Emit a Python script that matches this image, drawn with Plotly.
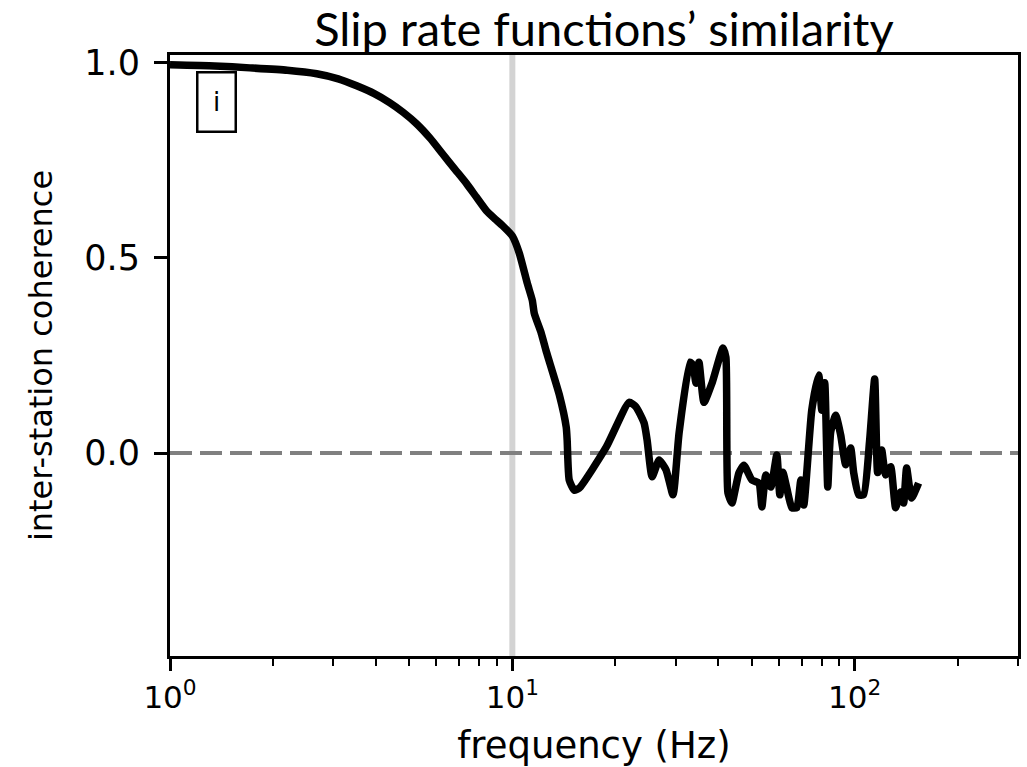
import plotly.graph_objects as go

# ---- data ----
freq = [1.0, 1.35, 1.711, 2.2, 2.683, 3.1, 3.510, 3.95, 4.379, 4.8, 5.250, 5.75, 6.251,
        6.8, 7.341, 7.85, 8.400, 8.9, 9.351, 10.0, 10.48, 11.06, 11.44, 11.59, 12.15,
        12.57, 13.71, 14.37, 14.46,
        14.66, 15.17, 15.68, 18.80, 21.93, 22.98, 24.26, 24.76, 25.60, 26.83,
        28.12, 29.47, 30.69, 33.04, 33.71, 34.39, 35.09, 36.29, 38.30, 41.23,
        42.06, 42.63, 43.79, 45.90, 47.46, 50.10, 52.51, 53.57, 55.02, 56.90,
        59.24, 60.44, 61.68, 63.36, 65.53, 67.77, 69.62, 71.03, 74.93, 78.53,
        80.13, 81.76, 83.43, 85.11, 88.03, 91.04, 94.15, 97.34, 99.33, 102.7,
        106.2, 110.6, 114.4, 116.7, 119.9, 123.1, 127.4, 131.7, 136.2, 139.0,
        141.8, 146.6, 153.7]
coherence = [0.995, 0.992, 0.987, 0.981, 0.972, 0.959, 0.941, 0.921, 0.898, 0.873, 0.844, 0.807, 0.767,
             0.727, 0.691, 0.656, 0.621, 0.600, 0.583, 0.556, 0.512, 0.435, 0.391, 0.358, 0.307,
             0.260, 0.150, 0.066, 0.033,
             -0.069, -0.095, -0.09, 0.015, 0.13, 0.118, 0.077, 0.033, -0.061, -0.018,
             -0.043, -0.107, 0.051, 0.233, 0.225, 0.179, 0.233, 0.13, 0.179, 0.269,
             0.245, -0.102, -0.128, -0.051, -0.031, -0.069, -0.077, -0.138, -0.056, -0.087,
             -0.005, -0.107, -0.049, -0.09, -0.14, -0.14, -0.069, -0.133, 0.11, 0.2,
             0.11, 0.18, -0.087, 0.054, 0.097, 0.046, -0.03, 0.013, -0.05, -0.107,
             -0.107, 0.033, 0.19, -0.05, 0.008, -0.056, -0.035, -0.14, -0.1, -0.128,
             -0.038, -0.115, -0.077]

ref_freq = 10.0          # vertical reference line
zero_level = 0.0         # horizontal dashed line

x_major = [1, 10, 100]
x_major_text = ["10<sup>0</sup>", "10<sup>1</sup>", "10<sup>2</sup>"]
x_minor = [2, 3, 4, 5, 6, 7, 8, 9, 20, 30, 40, 50, 60, 70, 80, 90, 200, 300]
y_ticks = [0.0, 0.5, 1.0]
y_tick_text = ["0.0", "0.5", "1.0"]

title_text = "Slip rate functions’ similarity"
panel_label = "i"

fig = go.Figure()
fig.add_trace(go.Scatter(x=freq, y=coherence, mode="lines",
                         line=dict(color="black", width=7.5, shape="spline", smoothing=0.5),
                         showlegend=False))

fig.add_shape(type="line", xref="x", yref="paper", x0=ref_freq, x1=ref_freq, y0=0, y1=1,
              line=dict(color="#d3d3d3", width=6), layer="below")
fig.add_shape(type="line", xref="paper", yref="y", x0=0, x1=1, y0=zero_level, y1=zero_level,
              line=dict(color="#808080", width=4, dash="22px,8px"), layer="below")

fig.add_annotation(text=panel_label, xref="paper", yref="paper",
                   x=0.0553, y=0.922, xanchor="center", yanchor="middle",
                   showarrow=False, font=dict(family="DejaVu Sans", size=26, color="black"),
                   bordercolor="black", borderwidth=2.5, bgcolor="white",
                   width=36, height=57, borderpad=0)

fig.update_layout(
    width=1027, height=767,
    margin=dict(l=170, r=6, t=55, b=111),
    paper_bgcolor="white", plot_bgcolor="white",
    font=dict(family="DejaVu Sans", color="black"),
    title=dict(text=title_text, x=0.5117, xanchor="center", xref="paper",
               y=0.94, yanchor="bottom", yref="container",
               font=dict(family="Lato", size=47, color="black")),
)
fig.update_xaxes(type="log", range=[0, 2.4771], showgrid=False, zeroline=False,
                 showline=True, linecolor="black", linewidth=3, mirror=True,
                 tickmode="array", tickvals=x_major, ticktext=x_major_text,
                 ticks="outside", ticklen=12, tickwidth=2.5, tickcolor="black",
                 tickfont=dict(size=31),
                 minor=dict(tickmode="array", tickvals=x_minor, ticks="outside",
                            ticklen=7, tickwidth=2, tickcolor="black"),
                 title=dict(text="frequency (Hz)", font=dict(size=37), standoff=18))
fig.update_yaxes(range=[-0.52, 1.02], showgrid=False, zeroline=False,
                 showline=True, linecolor="black", linewidth=3, mirror=True,
                 tickmode="array", tickvals=y_ticks, ticktext=y_tick_text,
                 ticks="outside", ticklen=13, tickwidth=2.5, tickcolor="black",
                 tickfont=dict(size=35), ticklabelstandoff=7,
                 title=dict(text="inter-station coherence", font=dict(size=32), standoff=23))

fig.write_html("out.html")
